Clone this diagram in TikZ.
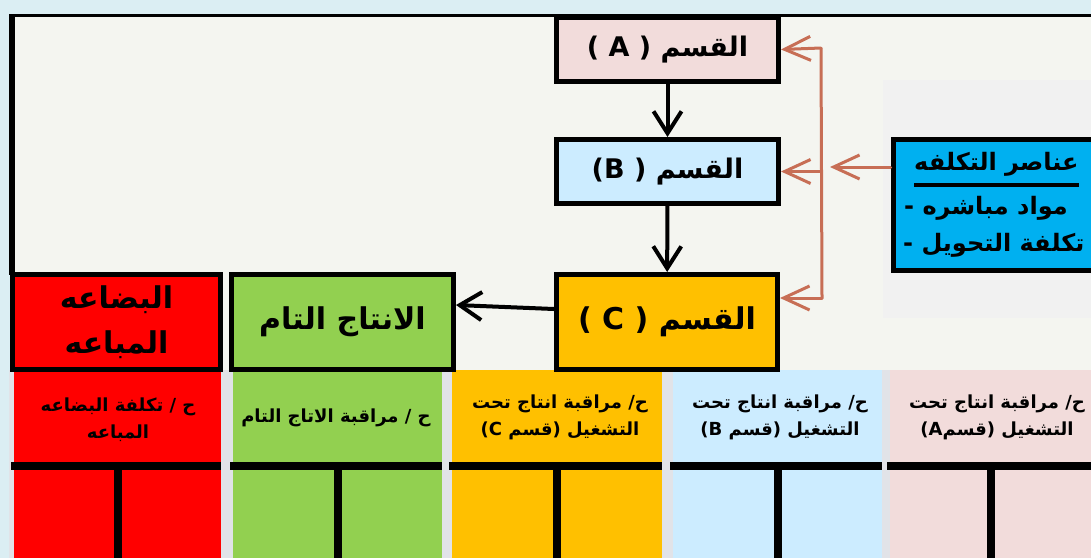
\documentclass[tikz,border=0pt]{standalone}
\usepackage{fontspec}
\usepackage{xcolor}
\usetikzlibrary{arrows.meta}
\newfontfamily\arabicfont[Script=Arabic]{DejaVu Sans}
\newfontfamily\latinfont{DejaVu Sans}
\TeXXeTstate=1
\newcommand\ligneR[1]{\beginR #1\endR}
\newcommand\textlat[1]{{\latinfont #1}}
\definecolor{fondbleu}{HTML}{DBEEF3}
\definecolor{fondclair}{HTML}{F4F5F0}
\definecolor{fondgris}{HTML}{E1E3E8}
\definecolor{grisleger}{HTML}{F1F1F1}
\definecolor{roseA}{HTML}{F2DCDB}
\definecolor{bleuB}{HTML}{CCECFF}
\definecolor{orangeC}{HTML}{FFC000}
\definecolor{rougeV}{HTML}{FF0000}
\definecolor{vertP}{HTML}{92D050}
\definecolor{bleucout}{HTML}{00B0F0}
\definecolor{couleurcout}{HTML}{C76E55}
\begin{document}
\begin{tikzpicture}[x=1pt,y=-1pt,
	boite/.style={draw=black,line width=5pt,inner sep=0pt,align=center},
	texteboite/.style={font=\arabicfont\bfseries\fontsize{27}{30}\selectfont},
	textetete/.style={font=\arabicfont\bfseries\fontsize{30}{45}\selectfont},
	textecol/.style={font=\arabicfont\bfseries\fontsize{18}{27}\selectfont,align=center},
	textecout/.style={font=\arabicfont\bfseries\fontsize{24}{28}\selectfont,inner sep=0pt},
	fleche/.style={line width=4pt,-{Straight Barb[length=22pt,width=28pt]}},
	flechecout/.style={draw=couleurcout,line width=3pt,line cap=round,-{Straight Barb[length=26pt,width=24pt]}}]
	%
	% Fond et cadre
	\useasboundingbox (0,0) rectangle (1091,558);
	\clip (0,0) rectangle (1091,558);
	\fill[fondbleu] (0,0) rectangle (1091,558);
	\fill[fondclair] (12,15) rectangle (1091,372);
	\fill[fondgris] (9,370) rectangle (1091,558);
	\fill[grisleger] (883,80) rectangle (1091,318);
	\draw[line width=3pt] (9,15.5) -- (1091,15.5);
	\draw[line width=6pt] (12,14) -- (12,275);
	%
	% Colonnes des comptes
	\foreach \gauche/\droite/\coul in {14/221/rougeV,233/442/vertP,452/662/orangeC,673/882/bleuB,890/1091/roseA}{
		\fill[\coul] (\gauche,370) rectangle (\droite,558);
		\fill[black] (\gauche-3,462) rectangle (\droite,470);
		\fill[black] ({(\gauche+\droite)/2-4},470) rectangle ({(\gauche+\droite)/2+4},558);
	}
	\node[textecol] (crouge) at (118,419.5) {\ligneR{ح / تكلفة البضاعه}\\\ligneR{المباعه}};
	\node[textecol] (cvert) at (336,418) {\ligneR{ح / مراقبة الاتاج التام}};
	\node[textecol] (corange) at (560,417.5) {\ligneR{ح/ مراقبة انتاج تحت}\\\textlat{(C} \ligneR{قسم}\textlat{)} \ligneR{التشغيل}};
	\node[textecol] (cbleu) at (780,417.5) {\ligneR{ح/ مراقبة انتاج تحت}\\\textlat{(B} \ligneR{قسم}\textlat{)} \ligneR{التشغيل}};
	\node[textecol] (crose) at (997,417.5) {\ligneR{ح/ مراقبة انتاج تحت}\\\textlat{(A}\ligneR{قسم}\textlat{)} \ligneR{التشغيل}};
	%
	% Les trois sections
	\node[boite,texteboite,fill=roseA,minimum width=222pt,minimum height=64pt] (A) at (667.5,49.5) {\textlat{( A )} \ligneR{القسم}};
	\node[boite,texteboite,fill=bleuB,minimum width=222pt,minimum height=64pt] (B) at (667.5,171.5) {\textlat{(B )} \ligneR{القسم}};
	\node[boite,fill=orangeC,minimum width=221pt,minimum height=95pt,font=\arabicfont\bfseries\fontsize{30}{34}\selectfont] (C) at (667,322) {\textlat{( C )} \ligneR{القسم}};
	%
	% Produits finis et marchandises vendues
	\node[boite,textetete,fill=vertP,minimum width=222pt,minimum height=95pt] (vert) at (342.5,322) {\ligneR{الانتاج التام}};
	\node[boite,textetete,fill=rougeV,minimum width=208pt,minimum height=95pt] (rouge) at (116.5,322) {\ligneR{البضاعه}\\\ligneR{المباعه}};
	%
	% Elements du cout
	\node[boite,fill=bleucout,anchor=west,minimum width=240pt,minimum height=131pt] (cout) at (890.5,205) {};
	\node[textecout,anchor=west] (titre) at (914,164) {\ligneR{عناصر التكلفه}};
	\draw[line width=3.5pt] ([yshift=-15pt]titre.base west) -- ([yshift=-15pt]titre.base east);
	\node[textecout,anchor=west] (matiere) at (904,208) {\textlat{-} \ligneR{مواد مباشره}};
	\node[textecout,anchor=west] (conversion) at (903,245) {\textlat{-} \ligneR{تكلفة التحويل}};
	%
	% Fleches
	\draw[fleche] (A) -- (B);
	\draw[fleche] (B) -- (C);
	\draw[fleche] ([yshift=13pt]C.west) -- ([yshift=17pt]vert.east);
	\coordinate (bushaut) at (821,48);
	\coordinate (busbas) at (822,298);
	\coordinate (arrivee) at (830,167);
	\draw[couleurcout,line width=3pt] (bushaut) -- (busbas);
	\draw[flechecout] (bushaut) -- (A.east);
	\draw[flechecout] (bushaut |- B.east) -- (B.east);
	\draw[flechecout] (busbas) -- (C.east |- busbas);
	\draw[flechecout] (cout.west |- arrivee) -- (arrivee);
\end{tikzpicture}
\end{document}
